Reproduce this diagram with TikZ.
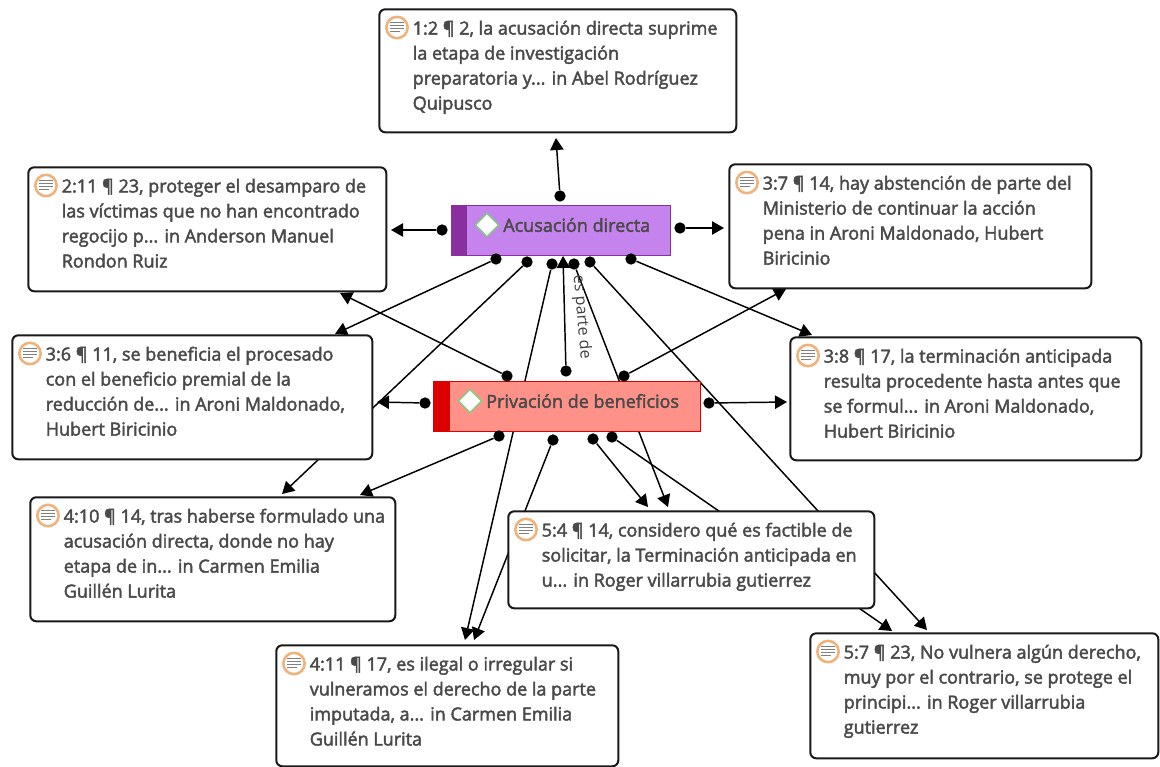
\documentclass[tikz,border=0pt]{standalone}
\usepackage{fontspec}
\setmainfont{Open Sans}
\newfontfamily\boxfont{Open Sans}[RawFeature={embolden=2.4}]
\usetikzlibrary{arrows.meta}
\usetikzlibrary{shapes.geometric}
\usetikzlibrary{backgrounds}
\definecolor{inktext}{HTML}{4A4A4A}
\definecolor{ringcol}{HTML}{F0B27A}
\definecolor{acufill}{HTML}{C583EE}
\definecolor{acustrip}{HTML}{8A2F9E}
\definecolor{prifill}{HTML}{FF9288}
\definecolor{pristrip}{HTML}{DD0000}
\tikzset{
    qbox/.style={draw=black!90, line width=1.5pt, rounded corners=4.5pt, fill=white, inner sep=0pt, anchor=north west},
    qtext/.style={inner sep=0pt, anchor=north west, align=left, font=\boxfont\fontsize{13.5}{18.75}\selectfont, text=inktext},
    dot/.style={circle, fill=black, inner sep=0pt, minimum size=8.5pt},
    link/.style={line width=1.1pt, -{Triangle[length=9pt,width=10pt]}},
    flag/.style={diamond, draw=green!45!gray!70, line width=1.1pt, fill=white, inner sep=0pt, minimum size=18pt},
    docicon/.pic={
        \draw[ringcol, line width=1.9pt, fill=white] (0,0) circle (8pt);
        \foreach \y/\w in {-5/7,-2/7,1/7,4/3}
            \draw[gray, line width=1pt] (-7,\y) -- (\w,\y);
    }
}
\newcommand{\qbox}[6]{
    \node[qbox, minimum width=#4*0.75pt, minimum height=#5*0.75pt] (#1) at (#2-0.7,#3-0.7) {};
    \node[qtext] (#1-t) at (#2+33.5,#3+11.5) {#6};
    \pic at (#2+18,#3+18.5) {docicon};
}
\begin{document}
\begin{tikzpicture}[x=0.75pt,y=-0.75pt]
    \useasboundingbox (0,0) rectangle (1160,767);

    % quotation boxes
    \qbox{qa}{379}{9}{357}{123}{1:2 ¶ 2, la acusación directa suprime\\la etapa de investigación\\preparatoria y... in Abel Rodríguez\\Quipusco}
    \qbox{qb}{28}{167}{358}{124}{2:11 ¶ 23, proteger el desamparo de\\las víctimas que no han encontrado\\regocijo p... in Anderson Manuel\\Rondon Ruiz}
    \qbox{qc}{729}{164}{362}{124}{3:7 ¶ 14, hay abstención de parte del\\Ministerio de continuar la acción\\pena in Aroni Maldonado, Hubert\\Biricinio}
    \qbox{qd}{12}{335}{360}{124}{3:6 ¶ 11, se beneficia el procesado\\con el beneficio premial de la\\reducción de... in Aroni Maldonado,\\Hubert Biricinio}
    \qbox{qe}{790}{337}{351}{123}{3:8 ¶ 17, la terminación anticipada\\resulta procedente hasta antes que\\se formul... in Aroni Maldonado,\\Hubert Biricinio}
    \qbox{qf}{30}{497}{365}{124}{4:10 ¶ 14, tras haberse formulado una\\acusación directa, donde no hay\\etapa de in... in Carmen Emilia\\Guillén Lurita}
    \qbox{qg}{508}{511}{366}{97}{5:4 ¶ 14, considero qué es factible de\\solicitar, la Terminación anticipada en\\u... in Roger villarrubia gutierrez}
    \qbox{qh}{276}{645}{342}{121}{4:11 ¶ 17, es ilegal o irregular si\\vulneramos el derecho de la parte\\imputada, a... in Carmen Emilia\\Guillén Lurita}
    \qbox{qi}{810}{633}{348}{125}{5:7 ¶ 23, No vulnera algún derecho,\\muy por el contrario, se protege el\\principi... in Roger villarrubia\\gutierrez}

    % the two codes
    \node[draw=acustrip, line width=1pt, fill=acufill, minimum width=164pt, minimum height=37.5pt, inner sep=0pt, anchor=north west] (acu) at (451,205) {};
    \fill[acustrip] (451,205) rectangle (467,255);
    \node[flag] (acuflag) at (487,225) {};
    \node[qtext, anchor=west, font=\boxfont\fontsize{13.5}{16}\selectfont] (acut) at (503,225) {Acusación directa};
    \node[draw=pristrip, line width=1pt, fill=prifill, minimum width=200pt, minimum height=37.5pt, inner sep=0pt, anchor=north west] (pri) at (433,381) {};
    \fill[pristrip] (433,381) rectangle (450,431);
    \node[flag] (priflag) at (470,401) {};
    \node[qtext, anchor=west, font=\boxfont\fontsize{13.5}{16}\selectfont] (prit) at (486,401) {Privación de beneficios};

    % dots
    \foreach \n/\x/\y in {a1/560/196,a2/442/230,a3/680/228,a4/496/259,a5/527/262,a6/552/264,a7/574/264,a8/590/262,a9/631/259,
        p0/566/371,p1/507/376,p2/624/376,p3/425/403,p4/709/403,p5/499/436,p6/553/440,p7/593/439,p8/612/437}
        \node[dot] (\n) at (\x,\y) {};

    % arrow ends
    \foreach \n/\x/\y in {t1/556/138,t2/391/230,t3/724/228,t4/335/334,t5/282/494,t6/465/640,t7/668/507,t8/927/630,t9/812/335,
        u0/563/256,u1/340/293,u2/786/289,u3/377/402,u4/787/402,u5/360/495,u6/474/640,u7/648/507,u8/892/631}
        \coordinate (\n) at (\x,\y);

    % links run behind the boxes
    \begin{scope}[on background layer]
        \foreach \a/\b in {a1/t1,a2/t2,a3/t3,a4/t4,a5/t5,a6/t6,a7/t7,a8/t8,a9/t9,
            p0/u0,p1/u1,p2/u2,p3/u3,p4/u4,p5/u5,p6/u6,p7/u7,p8/u8}
            \draw[link] (\a) -- (\b);
    \end{scope}

    \node[rotate=-85, text=black!75, font=\fontsize{12}{14}\selectfont, inner sep=0pt] (lab) at (581.5,317) {es parte de};
\end{tikzpicture}
\end{document}
